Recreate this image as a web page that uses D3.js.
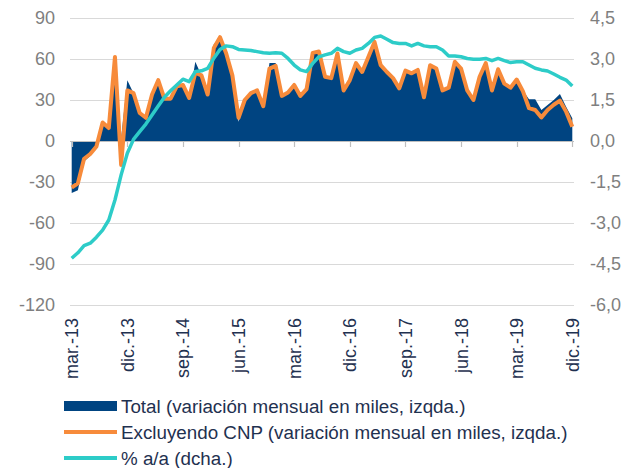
<!DOCTYPE html>
<html>
<head>
<meta charset="utf-8">
<script src="https://cdn.jsdelivr.net/npm/d3@7"></script>
<style>
  body { margin: 0; background: #fff; }
  text { font-family: "Liberation Sans", Arial, sans-serif; }
</style>
</head>
<body>
<svg id="chart" width="638" height="468"></svg>
<script>
// monthly categories mar-13 .. dic-19
const monthNames = ["ene.", "feb.", "mar.", "abr.", "may.", "jun.", "jul.", "ago.", "sep.", "oct.", "nov.", "dic."];
const months = d3.timeMonth.range(new Date(2013, 2, 1), new Date(2020, 0, 1))
  .map(d => monthNames[d.getMonth()] + "-" + String(d.getFullYear()).slice(2));

// Total (variación mensual en miles, izqda.)
const total = [
  -38, -36, -15, -11, -5, 13.5, 9.5, 60, 2, 44.5,
  35, 20.5, 16, 34, 44, 30, 31, 40, 40, 30,
  58, 48, 33, 71, 73, 62, 47, 14, 30, 35,
  37, 25, 57, 57, 33, 35, 41, 33, 38, 65,
  66, 47, 46, 64, 37, 44, 57, 50, 61, 73,
  55, 50, 46, 38, 51, 49, 52, 32, 55, 53,
  37, 39, 58, 53, 37, 30, 47, 57, 37, 52,
  42, 40, 45, 37, 30.5, 30.5, 22.7, 26.3, 30, 34.4,
  25, 16.6
];

// Excluyendo CNP (variación mensual en miles, izqda.)
const exclCNP = [
  -34, -31, -13, -9.5, -4, 13.5, 9.5, 61.5, -17.5, 37,
  35, 20.5, 17, 34, 44.5, 31, 31, 40, 41, 31.5,
  50, 48, 34, 68, 76, 64, 48, 17, 30, 35,
  37, 25.5, 53, 55, 33, 35.5, 41, 33, 38, 64.5,
  65.5, 47, 46, 64, 37, 44.5, 57, 50.5, 61.5, 72.5,
  55.5, 50.5, 46, 38.5, 51.5, 49.5, 52, 32, 55.5, 53,
  37, 39, 58, 53, 37, 30, 47, 57, 37, 52.5,
  42, 39, 45, 36.5, 24, 22.7, 17.3, 22.7, 26.5, 29.5,
  21.5, 10.5
];

// % a/a (dcha.)
const yoy = [
  -4.29, -4.09, -3.83, -3.74, -3.52, -3.26, -2.89, -2.16, -1.24, -0.45,
  0.06, 0.34, 0.62, 0.95, 1.28, 1.6, 1.84, 2.05, 2.26, 2.17,
  2.54, 2.57, 2.66, 3.03, 3.35, 3.48, 3.45, 3.35, 3.33, 3.31,
  3.27, 3.23, 3.21, 3.23, 3.21, 3.02, 2.78, 2.6, 2.54, 2.84,
  3.08, 3.15, 3.21, 3.39, 3.27, 3.21, 3.33, 3.39, 3.57, 3.79,
  3.84, 3.72, 3.6, 3.57, 3.57, 3.48, 3.57, 3.48, 3.45, 3.45,
  3.33, 3.11, 3.11, 3.08, 3.02, 2.99, 2.99, 3.02, 2.94, 3.02,
  2.94, 2.87, 2.9, 2.9, 2.78, 2.66, 2.6, 2.56, 2.45, 2.33,
  2.23, 2.01
];

const leftTicks = [90, 60, 30, 0, -30, -60, -90, -120];
const rightTicks = [4.5, 3, 1.5, 0, -1.5, -3, -4.5, -6];
const xTickLabels = ["mar.-13", "dic.-13", "sep.-14", "jun.-15", "mar.-16", "dic.-16", "sep.-17", "jun.-18", "mar.-19", "dic.-19"];

const legendItems = [
  { label: "Total (variación mensual en miles, izqda.)", color: "#004481", type: "rect" },
  { label: "Excluyendo CNP (variación mensual en miles, izqda.)", color: "#f78b3b", type: "line" },
  { label: "% a/a (dcha.)", color: "#2dccc8", type: "line" }
];

const svg = d3.select("#chart");
const fontSize = 18;

const x = d3.scalePoint().domain(months).range([71.7, 572.3]);
const yL = d3.scaleLinear().domain([-120, 90]).range([305, 18]);
const yR = d3.scaleLinear().domain([-6, 4.5]).range([305, 18]);

// gridlines
svg.append("g")
  .selectAll("line")
  .data(leftTicks)
  .join("line")
    .attr("x1", 70).attr("x2", 574)
    .attr("y1", d => Math.round(yL(d)) + 0.5)
    .attr("y2", d => Math.round(yL(d)) + 0.5)
    .attr("stroke", "#d9d9d9")
    .attr("stroke-width", 1.2);

// left labels
svg.append("g")
  .selectAll("text")
  .data(leftTicks)
  .join("text")
    .attr("x", 55)
    .attr("y", d => yL(d))
    .attr("dy", "0.36em")
    .attr("text-anchor", "end")
    .attr("font-size", fontSize)
    .attr("fill", "#7f7f7f")
    .text(d => d);

// right labels
const fmt = d => d.toFixed(1).replace(".", ",");
svg.append("g")
  .selectAll("text")
  .data(rightTicks)
  .join("text")
    .attr("x", 590)
    .attr("y", d => yR(d))
    .attr("dy", "0.36em")
    .attr("font-size", fontSize)
    .attr("fill", "#7f7f7f")
    .text(fmt);

// total area
const area = d3.area()
  .x((d, i) => x(months[i]))
  .y0(yL(0))
  .y1(d => yL(d));

svg.append("path")
  .datum(total)
  .attr("d", area)
  .attr("fill", "#004481");

// zero axis + ticks
svg.append("line")
  .attr("x1", 70).attr("x2", 574)
  .attr("y1", Math.round(yL(0)) + 0.5).attr("y2", Math.round(yL(0)) + 0.5)
  .attr("stroke", "#bfbfbf")
  .attr("stroke-width", 1.2);

svg.append("g")
  .selectAll("line")
  .data(xTickLabels)
  .join("line")
    .attr("x1", d => Math.round(x(d)) + 0.5)
    .attr("x2", d => Math.round(x(d)) + 0.5)
    .attr("y1", yL(0))
    .attr("y2", yL(0) + 6)
    .attr("stroke", "#bfbfbf")
    .attr("stroke-width", 1.2);

// excluyendo CNP line
const lineL = d3.line()
  .x((d, i) => x(months[i]))
  .y(d => yL(d));

svg.append("path")
  .datum(exclCNP)
  .attr("d", lineL)
  .attr("fill", "none")
  .attr("stroke", "#f78b3b")
  .attr("stroke-width", 4)
  .attr("stroke-linejoin", "round");

// yoy line
const lineR = d3.line()
  .x((d, i) => x(months[i]))
  .y(d => yR(d));

svg.append("path")
  .datum(yoy)
  .attr("d", lineR)
  .attr("fill", "none")
  .attr("stroke", "#2dccc8")
  .attr("stroke-width", 3.5)
  .attr("stroke-linejoin", "round");

// x labels, rotated
svg.append("g")
  .selectAll("text")
  .data(xTickLabels)
  .join("text")
    .attr("transform", d => `translate(${x(d)},318) rotate(-90)`)
    .attr("dy", "0.36em")
    .attr("text-anchor", "end")
    .attr("font-size", fontSize)
    .attr("fill", "#1f3150")
    .text(d => d);

// legend
const leg = svg.append("g")
  .selectAll("g")
  .data(legendItems)
  .join("g")
    .attr("transform", (d, i) => `translate(64,${406 + i * 26})`);

leg.filter(d => d.type === "rect").append("rect")
  .attr("x", 0).attr("y", -5)
  .attr("width", 53).attr("height", 10)
  .attr("fill", d => d.color);

leg.filter(d => d.type === "line").append("line")
  .attr("x1", 0).attr("x2", 53)
  .attr("stroke", d => d.color)
  .attr("stroke-width", 4);

leg.append("text")
  .attr("x", 57)
  .attr("dy", "0.36em")
  .attr("font-size", 18.8)
  .attr("fill", "#1f3150")
  .text(d => d.label);
</script>
</body>
</html>
